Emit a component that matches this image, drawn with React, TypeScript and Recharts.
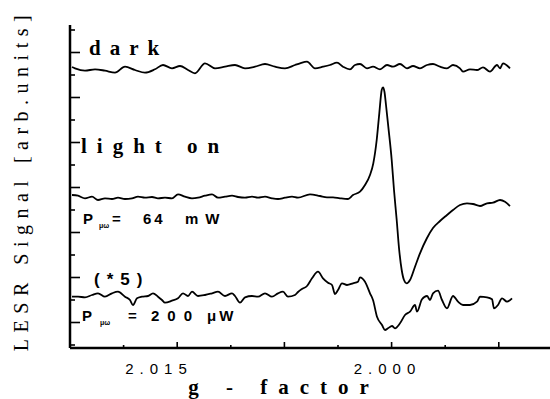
import React from 'react';
import { LineChart, Line, XAxis, YAxis } from 'recharts';

// field axis in arb. units (one unit ~ one pixel of the scan), ticks as printed
const fieldTicks = [53.6, 107.2, 160.8, 214.4, 268, 321.6, 375.2, 428.8];
const gLabels = ['2.015', '2.000'];
const gLabelPos = [86, 314.5];

// signal axis in arb. units
const signalTicks = [0, 22.5, 45, 67.5, 90, 112.5, 135, 157.5, 180, 202.5, 225, 247.5, 270, 292.5, 315];

// "dark" trace
const darkField = [2, 5, 15, 25, 35, 45, 55, 65, 75, 85, 93, 102, 110, 118, 125, 135, 145, 155, 165, 175, 185, 195, 205, 215, 225, 230, 237, 245, 253, 260, 267, 273, 280, 285, 290, 297, 303, 310, 317, 323, 330, 337, 343, 350, 357, 363, 370, 377, 383, 390, 393, 400, 407, 413, 420, 427, 430, 433, 440];
const darkSignal = [278, 276.7, 274.3, 275.7, 274.3, 272.3, 278.3, 275, 272.3, 275.7, 280, 276.7, 279, 275, 271.7, 281.7, 276.7, 278.3, 280, 276.7, 278.3, 281, 278.3, 276.7, 280, 281.7, 283.3, 276.7, 278.3, 280, 282.3, 278.3, 275.7, 280, 281, 276.7, 278.3, 275.7, 280, 278.3, 281, 276.7, 279, 276.7, 280, 281, 278.3, 276.7, 280, 276.7, 273.3, 275.7, 275, 277.7, 273.3, 280, 276.7, 281.7, 276.7];

// "light on", P = 64 mW
const lightField = [2, 8, 15, 22, 28, 35, 42, 48, 55, 62, 68, 75, 82, 88, 95, 102, 108, 115, 122, 128, 135, 142, 148, 155, 162, 168, 175, 182, 188, 195, 202, 208, 215, 222, 228, 240, 250, 257, 263, 270, 278, 283, 290, 295, 300, 303.3, 306.7, 309.3, 311.7, 313, 314.5, 316, 318.3, 321.7, 324, 326.7, 329, 331.7, 334, 336.7, 340, 345, 350, 357, 363, 370, 377, 383, 390, 397, 403, 410, 417, 423, 430, 435, 440];
const lightSignal = [150, 149.3, 146.7, 148.3, 145, 146.7, 146, 147.3, 146, 146.7, 148.3, 147.3, 148, 146.7, 147.3, 146.7, 150.7, 148.3, 146.7, 147.3, 149.3, 150.7, 147.3, 148.3, 149.3, 148, 147.3, 148.3, 147.3, 148.3, 146.7, 146, 147.3, 148.3, 147.3, 150.7, 149, 147.7, 147.7, 146.7, 146, 150, 153.3, 160, 170, 181.7, 205, 231.7, 255, 257.7, 253, 240, 218.3, 185, 155, 125, 97, 75, 65, 61.7, 65, 78.3, 91.7, 107, 117, 124, 130, 135, 140, 141.7, 141, 139, 141.7, 142.3, 145, 143.3, 139];

// "(*5)", P = 200 uW
const weakField = [2, 8, 15, 22, 28, 35, 42, 48, 55, 60, 63, 67, 72, 78, 83, 88, 92, 95, 102, 108, 113, 118, 122, 128, 135, 142, 148, 155, 162, 165, 170, 175, 182, 188, 195, 202, 208, 213, 218, 225, 228, 232, 237, 242, 248, 253, 258, 262, 265, 268, 272, 277, 283, 288, 290, 295, 300, 303, 307, 312, 315, 318, 322, 325, 330, 335, 340, 345, 347, 352, 357, 360, 363, 368, 372, 377, 383, 388, 393, 400, 407, 410, 417, 422, 424, 428, 432, 437, 442];
const weakSignal = [48.3, 48.3, 47.7, 50, 51.7, 48.3, 51.7, 53.3, 48.3, 45, 40, 46.7, 48.3, 49, 51.7, 48.3, 45, 42.3, 44.3, 46.7, 51.7, 49, 53.3, 49, 50, 51.7, 53.3, 49, 51.7, 49, 42.3, 47.7, 49, 48.3, 51.7, 48.3, 51.7, 53.3, 48.3, 50, 53, 56, 59, 66.7, 73.3, 66.7, 62.3, 60, 51, 55, 61.7, 60, 61.7, 63.3, 67.7, 63.3, 51.7, 45, 28.3, 20, 15, 16.7, 19, 16.7, 21.7, 30, 33.3, 40, 33.3, 45.7, 49, 45, 51.7, 54.3, 45, 36.7, 49, 43.3, 40, 40, 43.3, 48.3, 47.7, 45.7, 36.7, 40, 46.7, 43.3, 46.7];

const toPoints = (xs: number[], ys: number[]) => xs.map((x, i) => ({ x, y: ys[i] }));

const darkData = toPoints(darkField, darkSignal);
const lightData = toPoints(lightField, lightSignal);
const weakData = toPoints(weakField, weakSignal);

const serif = '"Liberation Serif", "DejaVu Serif", serif';
const sans = '"Liberation Sans", Arial, sans-serif';

const BottomTick = (props: any) => {
  const { x, y, payload } = props;
  const li = gLabelPos.indexOf(payload.value);
  if (li >= 0) {
    return (
      <text x={x + 3} y={y + 26} textAnchor="middle" fontFamily={sans} fontSize={15} letterSpacing={6} fill="#000">
        {gLabels[li]}
      </text>
    );
  }
  const k = fieldTicks.indexOf(payload.value);
  const len = k % 2 === 1 ? 6 : 3;
  return <line x1={x} x2={x} y1={y} y2={y - len} stroke="#000" strokeWidth={1.6} />;
};

const TopTick = (props: any) => {
  const { x, y, payload } = props;
  const k = fieldTicks.indexOf(payload.value);
  const len = k % 2 === 1 ? 6 : 3;
  return <line x1={x} x2={x} y1={y} y2={y + len} stroke="#000" strokeWidth={1.6} />;
};

const LeftTick = (props: any) => {
  const { x, y, payload } = props;
  const k = Math.round(payload.value / 22.5);
  const len = k % 2 === 1 ? 10 : 5;
  return <line x1={x} x2={x + len} y1={y} y2={y} stroke="#000" strokeWidth={1.6} />;
};

export default function App() {
  return (
    <div style={{ position: 'absolute', left: 0, top: 0, width: 550, height: 399, background: '#fff' }}>
      <LineChart width={550} height={399} margin={{ top: 25, right: 0, bottom: 0, left: 0 }}>
        <XAxis
          xAxisId={0}
          type="number"
          dataKey="x"
          domain={[0, 480]}
          allowDataOverflow
          ticks={[...fieldTicks, ...gLabelPos]}
          interval={0}
          height={51}
          tickSize={0}
          tickMargin={0}
          tickLine={false}
          tick={<BottomTick />}
          axisLine={{ stroke: '#000', strokeWidth: 2.5 }}
        />
        <XAxis
          xAxisId="top"
          orientation="top"
          type="number"
          dataKey="x"
          domain={[0, 480]}
          allowDataOverflow
          ticks={fieldTicks}
          interval={0}
          height={0}
          tickSize={0}
          tickMargin={0}
          tickLine={false}
          tick={<TopTick />}
          axisLine={{ stroke: '#000', strokeWidth: 2.5 }}
        />
        <YAxis
          type="number"
          domain={[-3, 320]}
          allowDataOverflow
          ticks={signalTicks}
          interval={0}
          width={70}
          tickSize={0}
          tickMargin={0}
          tickLine={false}
          tick={<LeftTick />}
          axisLine={{ stroke: '#000', strokeWidth: 2.5 }}
        />
        <Line data={darkData} dataKey="y" type="monotone" stroke="#000" strokeWidth={1.8} dot={false} isAnimationActive={false} />
        <Line data={lightData} dataKey="y" type="monotone" stroke="#000" strokeWidth={1.8} dot={false} isAnimationActive={false} />
        <Line data={weakData} dataKey="y" type="monotone" stroke="#000" strokeWidth={1.8} dot={false} isAnimationActive={false} />
      </LineChart>

      <svg width={550} height={399} style={{ position: 'absolute', left: 0, top: 0, pointerEvents: 'none' }}>
        <text transform="translate(28,180) rotate(-90)" textAnchor="middle" fontFamily={serif} fontSize={20} letterSpacing={6.5} fill="#000">
          LESR Signal [arb.units]
        </text>
        <text x={284} y={394} textAnchor="middle" fontFamily={serif} fontSize={21} fontWeight="bold" letterSpacing={11} fill="#000">
          g - factor
        </text>

        <text x={89} y={55} fontFamily={serif} fontSize={21} fontWeight="bold" letterSpacing={9} fill="#000">dark</text>
        <text x={81} y={153} fontFamily={serif} fontSize={21} fontWeight="bold" letterSpacing={10} fill="#000">light on</text>

        <g fontFamily={sans} fontWeight="bold" fill="#000">
          <text x={83} y={224} fontSize={15}>P</text>
          <text x={99} y={228} fontSize={7}>μω</text>
          <text x={112} y={224} fontSize={15}>=</text>
          <text x={143} y={224} fontSize={15} letterSpacing={3}>64</text>
          <text x={185} y={224} fontSize={15} letterSpacing={7}>mW</text>

          <text x={94} y={285} fontSize={17} letterSpacing={7}>(*5)</text>

          <text x={82} y={321} fontSize={15}>P</text>
          <text x={100} y={325} fontSize={7}>μω</text>
          <text x={128} y={321} fontSize={15}>=</text>
          <text x={151} y={321} fontSize={15} letterSpacing={8}>200</text>
          <text x={207} y={321} fontSize={15} letterSpacing={3}>μW</text>
        </g>
      </svg>
    </div>
  );
}
